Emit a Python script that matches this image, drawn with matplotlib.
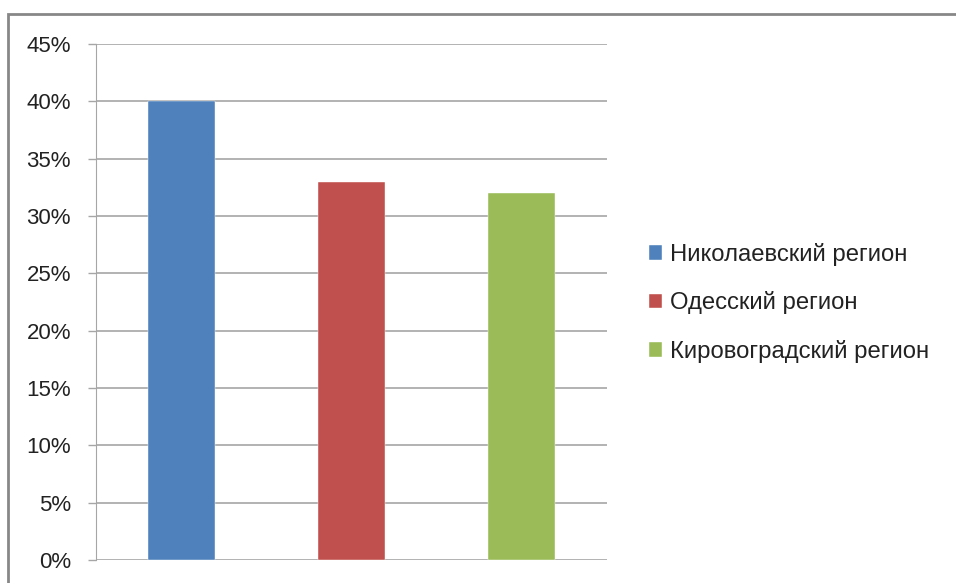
import matplotlib.pyplot as plt
from matplotlib.patches import Rectangle, Patch
from matplotlib.ticker import PercentFormatter

regions = ["Николаевский регион", "Одесский регион", "Кировоградский регион"]
shares = [40, 33, 32]
colors = ["#4F81BD", "#C0504D", "#9BBB59"]
yticks = list(range(0, 50, 5))

W, H = 956, 583
fig = plt.figure(figsize=(W / 100, H / 100), dpi=100)
plt.rcParams['font.family'] = ['Liberation Sans', 'DejaVu Sans']

# outer chart frame, runs off the right and bottom edges
fig.patches.append(Rectangle((8 / W, -0.1), 1.1, (H - 14) / H + 0.1,
                             transform=fig.transFigure, fill=False,
                             edgecolor="#878787", linewidth=2))

ax = fig.add_axes([96 / W, (H - 560) / H, (607 - 96) / W, (560 - 44) / H])
x = range(len(regions))
ax.bar(x, shares, width=0.395, color=colors, edgecolor="white", linewidth=0.3,
       zorder=3)

ax.set_xlim(-0.5, 2.5)
ax.set_ylim(0, 45)
ax.set_yticks(yticks)
ax.yaxis.set_major_formatter(PercentFormatter(decimals=0))
ax.set_xticks([])
ax.grid(axis="y", color="#A6A6A6", linewidth=1.2, zorder=0)
ax.tick_params(axis="y", length=6, width=1, color="#A6A6A6", pad=12,
               labelsize=16, labelcolor="#222222")
for side in ["top", "right", "bottom"]:
    ax.spines[side].set_visible(False)
ax.spines["left"].set_color("#A6A6A6")

handles = [Patch(facecolor=c, edgecolor="white", linewidth=0.3) for c in colors]
fig.legend(handles, regions, loc="center left",
           bbox_to_anchor=(627 / W, 1 - 303 / H), frameon=False,
           fontsize=17.2, handlelength=0.55, handleheight=0.55,
           handletextpad=0.35, labelspacing=1.07, labelcolor="#222222")

fig.savefig("out.png", dpi=100)
